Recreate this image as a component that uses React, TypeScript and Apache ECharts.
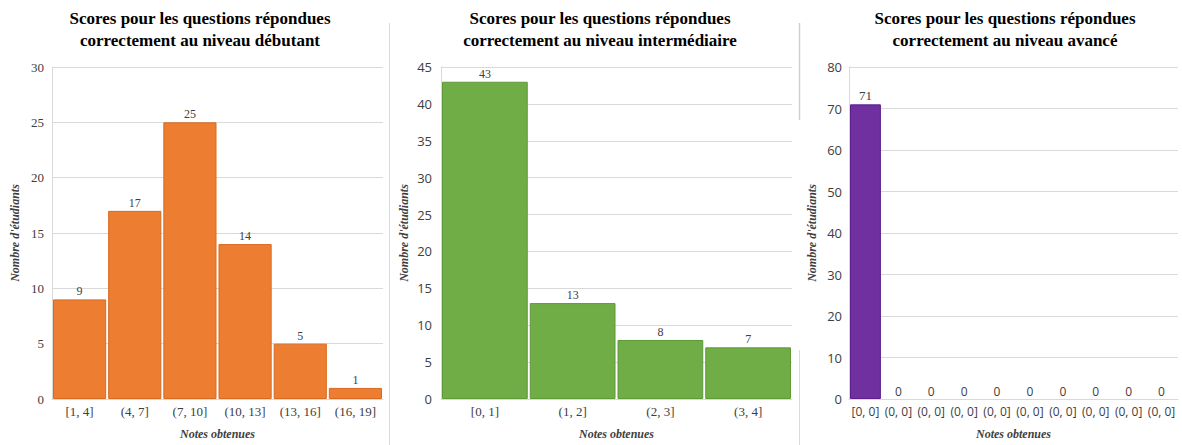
import React, { useEffect, useRef } from "react";
import * as echarts from "echarts";

const cats1 = ["[1, 4]", "(4, 7]", "(7, 10]", "(10, 13]", "(13, 16]", "(16, 19]"];
const vals1 = [9, 17, 25, 14, 5, 1];
const cats2 = ["[0, 1]", "(1, 2]", "(2, 3]", "(3, 4]"];
const vals2 = [43, 13, 8, 7];
const cats3 = ["[0, 0]", "(0, 0]", "(0, 0]", "(0, 0]", "(0, 0]", "(0, 0]", "(0, 0]", "(0, 0]", "(0, 0]", "(0, 0]"];
const vals3 = [71, 0, 0, 0, 0, 0, 0, 0, 0, 0];
const titles = [
  "Scores pour les questions répondues\ncorrectement au niveau débutant",
  "Scores pour les questions répondues\ncorrectement au niveau intermédiaire",
  "Scores pour les questions répondues\ncorrectement au niveau avancé",
];
const yName = "Nombre d'étudiants";
const xName = "Notes obtenues";

const SERIF = "'Liberation Serif', 'Times New Roman', serif";
const SANS = "'Open Sans', 'Liberation Sans', sans-serif";

export default function App() {
  const ref = useRef<HTMLDivElement>(null);
  useEffect(() => {
    document.body.style.margin = "0";
    const chart = echarts.init(ref.current!, null, { renderer: "svg" });
    const grids = [
      { left: 52, top: 67, width: 331, height: 334 },
      { left: 441, top: 67, width: 351, height: 334 },
      { left: 849, top: 67, width: 329, height: 334 },
    ];
    const cats = [cats1, cats2, cats3];
    const vals = [vals1, vals2, vals3];
    const colors = ["#ED7D31", "#70AD47", "#7030A0"];
    const borders = ["#D86A20", "#5E9A38", "#5B1F8A"];
    const ymax = [30, 45, 80];
    const yint = [5, 5, 10];
    const yFont = [SERIF, SANS, SANS];
    const xFont = [SERIF, SERIF, SANS];
    const yMargin = [8, 9, 7];
    const titleX = [200, 600, 1005];

    chart.setOption({
      animation: false,
      backgroundColor: "#fff",
      grid: grids.map((g) => ({ ...g, containLabel: false })),
      xAxis: grids.map((_, i) => ({
        type: "category",
        gridIndex: i,
        data: cats[i],
        axisLine: { show: true, lineStyle: { color: "#d9d9d9" } },
        axisTick: { show: false },
        axisLabel: {
          interval: 0,
          margin: 6,
          fontFamily: xFont[i],
          fontSize: i === 2 ? 12 : 13,
          color: "#404040",
        },
        name: xName,
        nameLocation: "middle",
        nameGap: 29,
        nameTextStyle: {
          fontFamily: SERIF,
          fontStyle: "italic",
          fontWeight: "bold",
          fontSize: 12,
          color: "#404040",
        },
      })),
      yAxis: grids.map((_, i) => ({
        type: "value",
        gridIndex: i,
        min: 0,
        max: ymax[i],
        interval: yint[i],
        axisLine: { show: true, lineStyle: { color: "#d9d9d9" } },
        axisTick: { show: false },
        splitLine: { show: true, lineStyle: { color: "#d9d9d9" } },
        axisLabel: {
          margin: yMargin[i],
          fontFamily: yFont[i],
          fontSize: 13,
          color: "#404040",
        },
        name: yName,
        nameLocation: "middle",
        nameGap: 31,
        nameTextStyle: {
          fontFamily: SERIF,
          fontStyle: "italic",
          fontWeight: "bold",
          fontSize: 12,
          color: "#404040",
        },
      })),
      series: grids.map((_, i) => ({
        type: "bar",
        xAxisIndex: i,
        yAxisIndex: i,
        data: vals[i].map((v) =>
          v === 0 ? { value: v, itemStyle: { borderWidth: 0 } } : v
        ),
        barCategoryGap: 2,
        itemStyle: { color: colors[i], borderColor: borders[i], borderWidth: 1 },
        label: {
          show: true,
          position: "top",
          distance: 2,
          fontFamily: i === 2 ? SANS : SERIF,
          fontSize: 12,
          color: "#404040",
          formatter: (p: any) =>
            i === 2 && p.value !== 0 ? `{s|${p.value}}` : `${p.value}`,
          rich: { s: { fontFamily: SERIF, fontSize: 13, color: "#404040" } },
        },
      })),
      graphic: [
        ...titles.map((t, i) => ({
          type: "text",
          x: titleX[i],
          y: 7,
          style: {
            text: t,
            textAlign: "center",
            fontFamily: SERIF,
            fontWeight: "bold",
            fontSize: 17,
            lineHeight: 22,
            fill: "#000",
          },
        })),
        { type: "line", shape: { x1: 389.5, y1: 23, x2: 389.5, y2: 445 }, style: { stroke: "#d9d9d9", lineWidth: 1 } },
        { type: "line", shape: { x1: 799.5, y1: 23, x2: 799.5, y2: 120 }, style: { stroke: "#d0d0d0", lineWidth: 1.5 } },
        { type: "line", shape: { x1: 799.5, y1: 350, x2: 799.5, y2: 445 }, style: { stroke: "#d9d9d9", lineWidth: 1 } },
      ],
    });
    return () => chart.dispose();
  }, []);
  return (
    <div
      ref={ref}
      style={{ position: "absolute", left: 0, top: 0, width: 1182, height: 445 }}
    />
  );
}
